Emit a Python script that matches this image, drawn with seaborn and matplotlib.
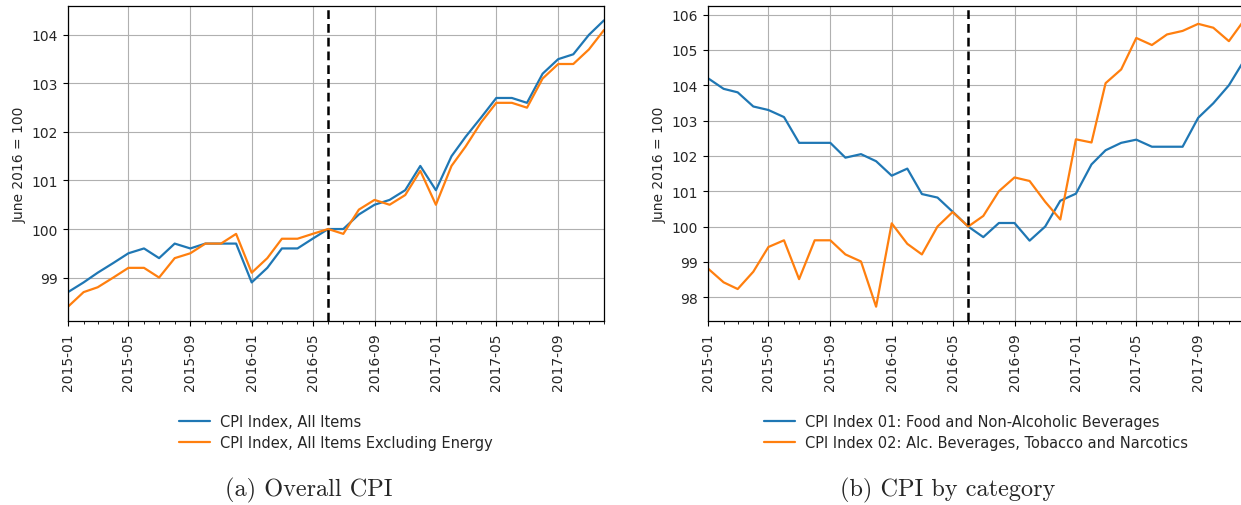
import numpy as np
import pandas as pd
import matplotlib
matplotlib.use("Agg")
import matplotlib.pyplot as plt
import matplotlib.dates as mdates
import seaborn as sns

months = pd.date_range("2015-01-01", "2017-12-01", freq="MS")

cpi_all = [98.7, 98.9, 99.1, 99.3, 99.5, 99.6, 99.4, 99.7, 99.6, 99.7, 99.7, 99.7,
           98.9, 99.2, 99.6, 99.6, 99.8, 100.0, 100.0, 100.3, 100.5, 100.6, 100.8, 101.3,
           100.8, 101.5, 101.9, 102.3, 102.7, 102.7, 102.6, 103.2, 103.5, 103.6, 104.0, 104.3]
cpi_ex_energy = [98.4, 98.7, 98.8, 99.0, 99.2, 99.2, 99.0, 99.4, 99.5, 99.7, 99.7, 99.9,
                 99.1, 99.4, 99.8, 99.8, 99.9, 100.0, 99.9, 100.4, 100.6, 100.5, 100.7, 101.2,
                 100.5, 101.3, 101.7, 102.2, 102.6, 102.6, 102.5, 103.1, 103.4, 103.4, 103.7, 104.1]

cpi_food = [104.2, 103.9, 103.8, 103.4, 103.3, 103.1, 102.37, 102.37, 102.37, 101.95, 102.05, 101.85,
            101.44, 101.64, 100.92, 100.82, 100.42, 100.0, 99.7, 100.1, 100.1, 99.6, 100.0, 100.73,
            100.93, 101.76, 102.16, 102.37, 102.46, 102.26, 102.26, 102.26, 103.08, 103.49, 104.0, 104.7]
cpi_alc = [98.81, 98.42, 98.23, 98.72, 99.42, 99.61, 98.51, 99.61, 99.61, 99.21, 99.01, 97.73,
           100.09, 99.51, 99.21, 100.0, 100.41, 100.0, 100.3, 101.0, 101.39, 101.29, 100.7, 100.2,
           102.47, 102.38, 104.06, 104.45, 105.34, 105.14, 105.44, 105.54, 105.74, 105.63, 105.25, 105.84]

labels_a = ["CPI Index, All Items", "CPI Index, All Items Excluding Energy"]
labels_b = ["CPI Index 01: Food and Non-Alcoholic Beverages",
            "CPI Index 02: Alc. Beverages, Tobacco and Narcotics"]
captions = ["(a) Overall CPI", "(b) CPI by category"]
ylabel = "June 2016 = 100"
ref_date = pd.Timestamp("2016-06-01")

sns.set_style("ticks")
plt.rcParams["font.family"] = ["DejaVu Sans"]

fig = plt.figure(figsize=(12.41, 5.06), dpi=100)
W, H = 1241, 506
ax_a = fig.add_axes([68 / W, (H - 322) / H, 536 / W, 315 / H])
ax_b = fig.add_axes([708 / W, (H - 322) / H, 536 / W, 315 / H])

colors = sns.color_palette("tab10")[:2]

def draw(ax, s1, s2, labels):
    df = pd.DataFrame({"date": list(months) * 2,
                       "value": list(s1) + list(s2),
                       "series": [labels[0]] * len(months) + [labels[1]] * len(months)})
    sns.lineplot(data=df, x="date", y="value", hue="series", palette=colors,
                 linewidth=1.6, ax=ax)
    ax.axvline(ref_date, color="black", linestyle="--", linewidth=1.8, dashes=(3.5, 2))
    ax.set_xlim(months[0], months[-1])
    ax.xaxis.set_major_locator(mdates.MonthLocator(bymonth=[1, 5, 9]))
    ax.xaxis.set_minor_locator(mdates.MonthLocator())
    ax.xaxis.set_major_formatter(mdates.DateFormatter("%Y-%m"))
    ax.tick_params(axis="x", which="major", rotation=90, labelsize=10, length=3.5,
                   color="black", pad=4.5)
    ax.tick_params(axis="x", which="minor", length=2, color="black")
    ax.tick_params(axis="y", labelsize=10, length=3.5, color="black")
    ax.grid(True, which="major", color="#b0b0b0", linewidth=0.8)
    ax.set_xlabel("")
    ax.set_ylabel(ylabel, fontsize=10)
    for sp in ax.spines.values():
        sp.set_color("black")
        sp.set_linewidth(0.9)
    leg = ax.legend(loc="upper center", bbox_to_anchor=(0.5, -0.255), frameon=False,
                    fontsize=10.5, handlelength=2.1, handletextpad=0.7, labelspacing=0.4)
    for line in leg.get_lines():
        line.set_linewidth(1.6)

draw(ax_a, cpi_all, cpi_ex_energy, labels_a)
draw(ax_b, cpi_food, cpi_alc, labels_b)
ax_b.set_yticks(np.arange(98, 107, 1))

fig.text(308.5 / W, 1 - 490 / H, captions[0], ha="center", va="center",
         fontsize=17.5, family="cmr10")
fig.text(948 / W, 1 - 490 / H, captions[1], ha="center", va="center",
         fontsize=17.5, family="cmr10")

fig.savefig("out.png", dpi=100)
